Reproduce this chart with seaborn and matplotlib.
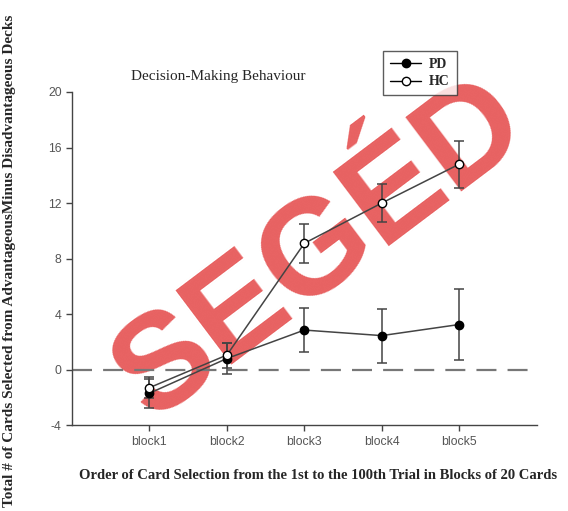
import numpy as np
import pandas as pd
import matplotlib
matplotlib.use("Agg")
import matplotlib.pyplot as plt
import seaborn as sns
from matplotlib.lines import Line2D

# data
blocks = ["block1", "block2", "block3", "block4", "block5"]
pd_mean = [-1.7, 0.8, 2.85, 2.45, 3.25]
pd_err = [1.05, 1.1, 1.6, 1.95, 2.55]
hc_mean = [-1.3, 1.05, 9.1, 12.0, 14.8]
hc_err = [0.75, 0.9, 1.4, 1.4, 1.7]
yticks = [-4, 0, 4, 8, 12, 16, 20]

sns.set_style("ticks")
plt.rcParams["font.family"] = ["Liberation Sans", "DejaVu Sans"]
plt.rcParams["axes.unicode_minus"] = False
serif = ["Liberation Serif", "DejaVu Serif"]

x = np.arange(1, len(blocks) + 1)
df = pd.DataFrame({
    "block": np.concatenate([x, x]),
    "score": pd_mean + hc_mean,
    "group": ["PD"] * len(blocks) + ["HC"] * len(blocks),
})

fig = plt.figure(figsize=(5.68, 5.11), dpi=100)

# watermark, behind everything
fig.text(0.565, 0.51, "SEGÉD", rotation=37, fontsize=98, fontweight="bold",
         color="#e23a3a", alpha=0.8, ha="center", va="center", zorder=-5,
         family=["Liberation Sans", "DejaVu Sans"])

ax = fig.add_axes([0.1268, 0.168, 0.818, 0.652])
ax.set_facecolor("none")
ax.set_zorder(2)

ax.axhline(0, color="#777777", lw=1.6, ls=(0, (9, 5)), zorder=1)

for m, e in [(pd_mean, pd_err), (hc_mean, hc_err)]:
    ax.errorbar(x, m, yerr=e, fmt="none", ecolor="#444444", elinewidth=1.1,
                capsize=3.6, capthick=1.1, zorder=2)

sns.lineplot(data=df, x="block", y="score", hue="group", style="group",
             hue_order=["PD", "HC"], style_order=["PD", "HC"],
             palette={"PD": "#444444", "HC": "#444444"},
             markers={"PD": "o", "HC": "o"}, dashes=False, lw=1.1,
             ax=ax, legend=False, zorder=3)
for line, fc in zip(ax.get_lines()[-2:], ["black", "white"]):
    line.set_markerfacecolor(fc)
    line.set_markeredgecolor("black")
    line.set_markersize(6)
    line.set_markeredgewidth(1.0)

ax.set_xlim(0, 6)
ax.set_ylim(-4, 20)
ax.set_yticks(yticks)
ax.set_xticks(x)
ax.set_xticklabels(blocks)
ax.tick_params(axis="both", colors="#444444", labelcolor="#555555",
               labelsize=8.8, length=4, width=1)
for s in ["left", "bottom"]:
    ax.spines[s].set_color("#444444")
    ax.spines[s].set_linewidth(1.0)
sns.despine(ax=ax)
ax.set_xlabel("")
ax.set_ylabel("")

ax.text(0.315, 1.045, "Decision-Making Behaviour", transform=ax.transAxes,
        ha="center", va="center", fontsize=11, family=serif)

handles = [
    Line2D([], [], color="black", lw=1, marker="o", markersize=6,
           markerfacecolor="black", markeredgecolor="black"),
    Line2D([], [], color="black", lw=1, marker="o", markersize=6,
           markerfacecolor="white", markeredgecolor="black"),
]
leg = ax.legend(handles, ["PD", "HC"], loc="upper left",
                bbox_to_anchor=(0.655, 1.143), frameon=True, fancybox=False,
                edgecolor="#333333", handlelength=2.2, handletextpad=0.6,
                borderpad=0.5, labelspacing=0.3,
                prop={"family": serif, "weight": "bold", "size": 10})
leg.get_frame().set_linewidth(1.0)

fig.text(0.56, 0.07, "Order of Card Selection from the 1st to the 100th Trial in Blocks of 20 Cards",
         ha="center", va="center", fontsize=10.5, fontweight="bold", family=serif)
fig.text(0.016, 0.008, "Total # of Cards Selected from AdvantageousMinus Disadvantageous Decks",
         rotation=90, ha="center", va="bottom", fontsize=11, fontweight="bold", family=serif)

fig.savefig("out.png", dpi=100)
